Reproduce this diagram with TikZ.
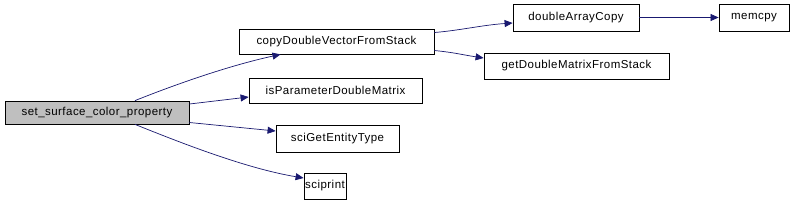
\documentclass[tikz,border=0pt]{standalone}
\usepackage{fontspec}
\setmainfont{Liberation Sans}[LetterSpace=4]
\usetikzlibrary{arrows.meta,calc}
\definecolor{edgeblue}{HTML}{191970}
\definecolor{hlgray}{HTML}{BFBFBF}
\tikzset{
  fn/.style={draw=black, line width=0.8pt, fill=white, inner sep=0pt, minimum height=25pt, font=\fontsize{11.5}{13}\selectfont, anchor=center},
  cur/.style={fn, fill=hlgray},
  call/.style={draw=edgeblue, line width=0.7pt, -{Triangle[length=8pt,width=7pt]}},
}
\begin{document}
\begin{tikzpicture}[x=1pt,y=-1pt]
\useasboundingbox[fill=white] (0,0) rectangle (797,202);
\node[cur, minimum width=184pt, minimum height=23pt] (set) at (97,112.5) {set\_surface\_color\_property};
\node[fn, minimum width=195pt] (cdv) at (336.5,41.5) {copyDoubleVectorFromStack};
\node[fn, minimum width=126pt, minimum height=27pt] (dac) at (576,17.5) {doubleArrayCopy};
\node[fn, minimum width=70pt, minimum height=27pt] (mem) at (754,17.5) {memcpy};
\node[fn, minimum width=185pt, minimum height=26pt] (gdm) at (576.5,66) {getDoubleMatrixFromStack};
\node[fn, minimum width=173pt] (ipd) at (335.5,90.5) {isParameterDoubleMatrix};
\node[fn, minimum width=123pt, minimum height=27pt] (sge) at (337.5,138.5) {sciGetEntityType};
\node[fn, minimum width=42pt, minimum height=26pt] (spr) at (325,186) {sciprint};
\draw[call] ([xshift=38pt]set.north) .. controls +(35,-14) and +(-55,12) .. ([xshift=-56pt]cdv.south);
\draw[call] ([yshift=8.5pt]set.east) -- (ipd.west |- 0,97);
\draw[call] ([yshift=-10pt]set.east) -- (sge.west |- 0,131);
\draw[call] ([xshift=38pt]set.south) .. controls +(40,16) and +(-60,-10) .. (spr.west |- 0,178);
\draw[call] ([yshift=9pt]cdv.east) .. controls +(25,-2) and +(-30,2) .. (dac.west |- 0,23);
\draw[call] ([yshift=-9pt]cdv.east) .. controls +(20,2) and +(-20,-3) .. (gdm.west |- 0,58);
\draw[call] (dac.east) -- (mem.west);
\end{tikzpicture}
\end{document}
